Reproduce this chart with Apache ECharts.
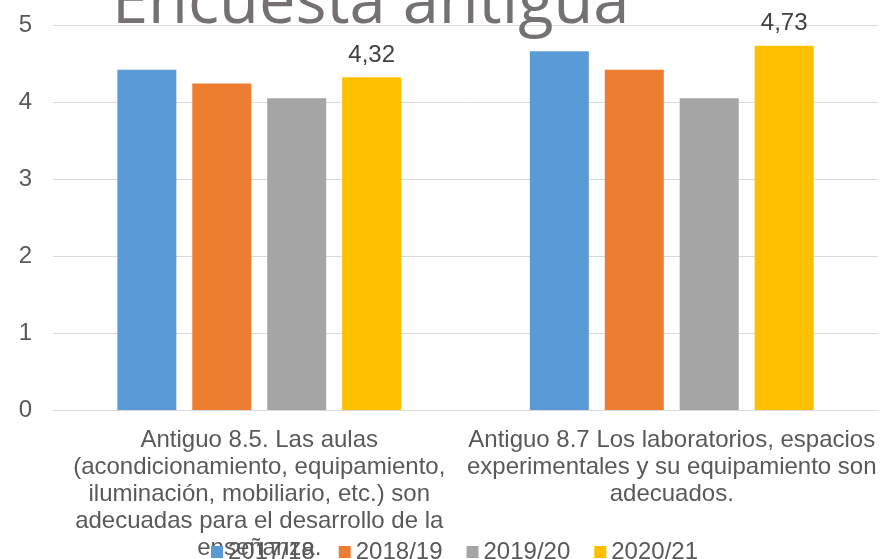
<!DOCTYPE html>
<html>
<head>
<meta charset="utf-8">
<script src="https://cdn.jsdelivr.net/npm/echarts@6/dist/echarts.min.js"></script>
<style>
  html, body { margin: 0; padding: 0; background: #fff; }
  #chart-container { width: 883px; height: 559px; }
</style>
</head>
<body>
<div id="chart-container"></div>
<script>
// data
const categories = [
  "Antiguo 8.5. Las aulas\n(acondicionamiento, equipamiento,\niluminación, mobiliario, etc.) son\nadecuadas para el desarrollo de la\nenseñanza.",
  "Antiguo 8.7 Los laboratorios, espacios\nexperimentales y su equipamiento son\nadecuados."
];
const seriesNames = ["2017/18", "2018/19", "2019/20", "2020/21"];
const values2017 = [4.42, 4.66];
const values2018 = [4.24, 4.42];
const values2019 = [4.05, 4.05];
const values2020 = [4.32, 4.73];
const colors = ["#5b9bd5", "#ed7d31", "#a5a5a5", "#ffc000"];
const yTicks = [0, 1, 2, 3, 4, 5];

const font = "'Liberation Sans', Arial, sans-serif";

const dom = document.getElementById("chart-container");
const myChart = echarts.init(dom, null, { renderer: "canvas" });

const allValues = [values2017, values2018, values2019, values2020];

const option = {
  animation: false,
  color: colors,
  title: {
    text: "Encuesta antigua",
    left: 107,
    top: -33,
    textStyle: {
      fontFamily: "'Open Sans', 'Liberation Sans', sans-serif",
      fontWeight: "normal",
      fontSize: 65,
      color: "#757171"
    }
  },
  legend: {
    top: 535,
    left: 206,
    itemWidth: 12,
    itemHeight: 12,
    itemGap: 24,
    icon: "rect",
    data: seriesNames,
    textStyle: { fontFamily: font, fontSize: 24, color: "#595959" }
  },
  grid: {
    left: 53, right: 5, top: 25, bottom: 149,
    containLabel: false,
    outerBoundsMode: "none"
  },
  xAxis: {
    type: "category",
    data: categories,
    axisLine: { lineStyle: { color: "#d9d9d9", width: 1 } },
    axisTick: { show: false },
    axisLabel: {
      interval: 0,
      fontFamily: font,
      fontSize: 24,
      lineHeight: 27,
      color: "#595959",
      margin: 17
    }
  },
  yAxis: {
    type: "value",
    min: yTicks[0],
    max: yTicks[yTicks.length - 1],
    interval: 1,
    axisLine: { show: false },
    axisTick: { show: false },
    splitLine: { lineStyle: { color: "#d9d9d9", width: 1 } },
    axisLabel: { fontFamily: font, fontSize: 24, color: "#595959", margin: 21 }
  },
  series: seriesNames.map((name, i) => ({
    name: name,
    type: "bar",
    data: allValues[i],
    barWidth: 59,
    barGap: "27%",
    label: {
      show: i === 3,
      position: "top",
      distance: 10,
      fontFamily: font,
      fontSize: 24,
      color: "#404040",
      formatter: (p) => p.value.toFixed(2).replace(".", ",")
    }
  }))
};

myChart.setOption(option);
</script>
</body>
</html>
